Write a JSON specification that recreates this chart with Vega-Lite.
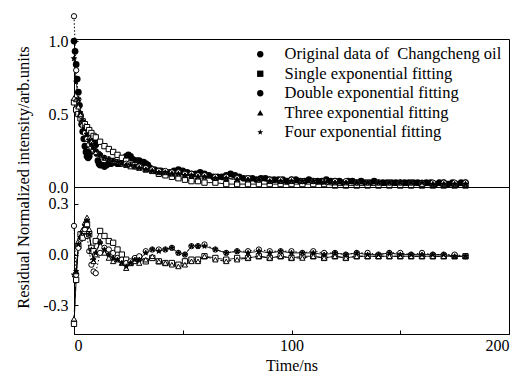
{
  "$schema": "https://vega.github.io/schema/vega-lite/v6.json",
  "padding": {"left": 14, "top": 11, "right": 2, "bottom": 0},
  "background": "white",
  "bounds": "flush",
  "spacing": 0,
  "config": {
    "view": {"stroke": "black", "strokeWidth": 1},
    "font": "Liberation Serif",
    "axis": {"grid": false, "domainColor": "black", "tickColor": "black", "labelColor": "black", "titleColor": "black", "labelFont": "Liberation Serif", "titleFont": "Liberation Serif", "labelFontSize": 16, "titleFontSize": 16, "titleFontWeight": "normal", "tickSize": -4, "domainWidth": 1, "tickWidth": 1}
  },
  "datasets": {
    "orig": [
      {"t":0,"orig":1.00},{"t":0.5,"orig":0.93},{"t":1,"orig":0.84},{"t":1.5,"orig":0.74},{"t":2,"orig":0.65},{"t":2.5,"orig":0.56},{"t":3,"orig":0.49},{"t":3.5,"orig":0.43},{"t":4,"orig":0.38},{"t":4.5,"orig":0.33},{"t":5,"orig":0.28},{"t":5.5,"orig":0.24},{"t":6,"orig":0.21},{"t":6.5,"orig":0.20},{"t":7,"orig":0.21},{"t":7.5,"orig":0.24},{"t":8,"orig":0.28},{"t":8.5,"orig":0.32},{"t":9,"orig":0.34},{"t":9.5,"orig":0.33},{"t":10,"orig":0.29},{"t":10.5,"orig":0.23},{"t":11,"orig":0.18},{"t":11.5,"orig":0.16},{"t":12,"orig":0.15},{"t":13,"orig":0.15},{"t":14,"orig":0.14},{"t":15,"orig":0.15},{"t":16,"orig":0.16},{"t":17,"orig":0.16},{"t":18,"orig":0.17},{"t":19,"orig":0.17},{"t":20,"orig":0.16},{"t":21,"orig":0.16},{"t":22,"orig":0.17},{"t":23,"orig":0.19},{"t":24,"orig":0.21},{"t":25,"orig":0.22},{"t":26,"orig":0.21},{"t":27,"orig":0.19},{"t":28,"orig":0.18},{"t":29,"orig":0.18},{"t":30,"orig":0.18},{"t":31,"orig":0.17},{"t":32,"orig":0.17},{"t":33,"orig":0.16},{"t":34,"orig":0.15},{"t":35,"orig":0.13},{"t":36,"orig":0.12},{"t":37,"orig":0.12},{"t":38,"orig":0.11},{"t":39,"orig":0.11},{"t":40,"orig":0.11},{"t":42,"orig":0.10},{"t":44,"orig":0.10},{"t":46,"orig":0.11},{"t":48,"orig":0.12},{"t":50,"orig":0.11},{"t":52,"orig":0.10},{"t":54,"orig":0.09},{"t":56,"orig":0.09},{"t":58,"orig":0.10},{"t":60,"orig":0.09},{"t":62,"orig":0.08},{"t":64,"orig":0.07},{"t":66,"orig":0.07},{"t":68,"orig":0.07},{"t":70,"orig":0.08},{"t":72,"orig":0.09},{"t":74,"orig":0.08},{"t":76,"orig":0.07},{"t":78,"orig":0.06},{"t":80,"orig":0.06},{"t":82,"orig":0.06},{"t":84,"orig":0.05},{"t":86,"orig":0.06},{"t":88,"orig":0.06},{"t":90,"orig":0.05},{"t":92,"orig":0.05},{"t":94,"orig":0.05},{"t":96,"orig":0.05},{"t":98,"orig":0.04},{"t":100,"orig":0.05},{"t":102,"orig":0.05},{"t":104,"orig":0.04},{"t":106,"orig":0.04},{"t":108,"orig":0.05},{"t":110,"orig":0.04},{"t":112,"orig":0.04},{"t":114,"orig":0.04},{"t":116,"orig":0.05},{"t":118,"orig":0.04},{"t":120,"orig":0.04},{"t":122,"orig":0.04},{"t":124,"orig":0.03},{"t":126,"orig":0.04},{"t":128,"orig":0.04},{"t":130,"orig":0.03},{"t":132,"orig":0.04},{"t":134,"orig":0.03},{"t":136,"orig":0.03},{"t":138,"orig":0.04},{"t":140,"orig":0.03},{"t":142,"orig":0.03},{"t":144,"orig":0.03},{"t":146,"orig":0.03},{"t":148,"orig":0.03},{"t":150,"orig":0.03},{"t":152,"orig":0.03},{"t":154,"orig":0.03},{"t":156,"orig":0.03},{"t":158,"orig":0.03},{"t":160,"orig":0.02},{"t":162,"orig":0.03},{"t":164,"orig":0.03},{"t":166,"orig":0.02},{"t":168,"orig":0.03},{"t":170,"orig":0.03},{"t":172,"orig":0.02},{"t":174,"orig":0.03},{"t":176,"orig":0.02},{"t":178,"orig":0.03},{"t":180,"orig":0.03}
    ],
    "fit": [
      {"t":0,"s1":0.58,"s2":1.17,"s3":0.61,"s4":0.88},
      {"t":1,"s1":0.53,"s2":0.80,"s3":0.60,"s4":0.72},
      {"t":2,"s1":0.50,"s2":0.60,"s3":0.55,"s4":0.60},
      {"t":3,"s1":0.47,"s2":0.49,"s3":0.50,"s4":0.51},
      {"t":4,"s1":0.45,"s2":0.42,"s3":0.46,"s4":0.45},
      {"t":5,"s1":0.43,"s2":0.37,"s3":0.42,"s4":0.40},
      {"t":6,"s1":0.41,"s2":0.33,"s3":0.38,"s4":0.36},
      {"t":7,"s1":0.39,"s2":0.29,"s3":0.34,"s4":0.32},
      {"t":8,"s1":0.37,"s2":0.27,"s3":0.31,"s4":0.29},
      {"t":9,"s1":0.35,"s2":0.25,"s3":0.28,"s4":0.27},
      {"t":10,"s1":0.34,"s2":0.24,"s3":0.26,"s4":0.25},
      {"t":12,"s1":0.31,"s2":0.22,"s3":0.23,"s4":0.22},
      {"t":14,"s1":0.28,"s2":0.20,"s3":0.20,"s4":0.20},
      {"t":16,"s1":0.26,"s2":0.19,"s3":0.19,"s4":0.19},
      {"t":18,"s1":0.24,"s2":0.18,"s3":0.18,"s4":0.18},
      {"t":20,"s1":0.22,"s2":0.17,"s3":0.17,"s4":0.17},
      {"t":22,"s1":0.20,"s2":0.16,"s3":0.16,"s4":0.16},
      {"t":24,"s1":0.18,"s2":0.16,"s3":0.15,"s4":0.15},
      {"t":26,"s1":0.16,"s2":0.15,"s3":0.14,"s4":0.15},
      {"t":28,"s1":0.15,"s2":0.14,"s3":0.14,"s4":0.14},
      {"t":30,"s1":0.14,"s2":0.14,"s3":0.13,"s4":0.13},
      {"t":33,"s1":0.12,"s2":0.13,"s3":0.12,"s4":0.12},
      {"t":36,"s1":0.11,"s2":0.12,"s3":0.11,"s4":0.11},
      {"t":39,"s1":0.09,"s2":0.11,"s3":0.10,"s4":0.10},
      {"t":42,"s1":0.08,"s2":0.11,"s3":0.10,"s4":0.10},
      {"t":45,"s1":0.07,"s2":0.10,"s3":0.09,"s4":0.09},
      {"t":48,"s1":0.06,"s2":0.10,"s3":0.09,"s4":0.09},
      {"t":51,"s1":0.05,"s2":0.09,"s3":0.08,"s4":0.08},
      {"t":54,"s1":0.04,"s2":0.09,"s3":0.08,"s4":0.08},
      {"t":57,"s1":0.04,"s2":0.08,"s3":0.07,"s4":0.07},
      {"t":60,"s1":0.03,"s2":0.08,"s3":0.07,"s4":0.07},
      {"t":65,"s1":0.03,"s2":0.07,"s3":0.06,"s4":0.06},
      {"t":70,"s1":0.02,"s2":0.07,"s3":0.06,"s4":0.06},
      {"t":75,"s1":0.02,"s2":0.06,"s3":0.05,"s4":0.05},
      {"t":80,"s1":0.02,"s2":0.06,"s3":0.05,"s4":0.05},
      {"t":85,"s1":0.02,"s2":0.05,"s3":0.05,"s4":0.05},
      {"t":90,"s1":0.02,"s2":0.05,"s3":0.04,"s4":0.04},
      {"t":95,"s1":0.02,"s2":0.05,"s3":0.04,"s4":0.04},
      {"t":100,"s1":0.02,"s2":0.05,"s3":0.04,"s4":0.04},
      {"t":105,"s1":0.02,"s2":0.04,"s3":0.04,"s4":0.04},
      {"t":110,"s1":0.02,"s2":0.04,"s3":0.04,"s4":0.04},
      {"t":115,"s1":0.02,"s2":0.04,"s3":0.04,"s4":0.03},
      {"t":120,"s1":0.01,"s2":0.04,"s3":0.03,"s4":0.03},
      {"t":125,"s1":0.01,"s2":0.04,"s3":0.03,"s4":0.03},
      {"t":130,"s1":0.01,"s2":0.03,"s3":0.03,"s4":0.03},
      {"t":135,"s1":0.01,"s2":0.03,"s3":0.03,"s4":0.03},
      {"t":140,"s1":0.01,"s2":0.03,"s3":0.03,"s4":0.03},
      {"t":145,"s1":0.01,"s2":0.03,"s3":0.03,"s4":0.03},
      {"t":150,"s1":0.01,"s2":0.03,"s3":0.03,"s4":0.03},
      {"t":155,"s1":0.01,"s2":0.03,"s3":0.03,"s4":0.03},
      {"t":160,"s1":0.01,"s2":0.03,"s3":0.02,"s4":0.03},
      {"t":165,"s1":0.01,"s2":0.03,"s3":0.02,"s4":0.02},
      {"t":170,"s1":0.01,"s2":0.03,"s3":0.02,"s4":0.02},
      {"t":175,"s1":0.01,"s2":0.03,"s3":0.02,"s4":0.02},
      {"t":180,"s1":0.01,"s2":0.03,"s3":0.02,"s4":0.02}
    ],
    "res": [
      {"t":0,"s1":-0.41,"s2":0.17,"s3":-0.38,"s4":-0.12},
      {"t":1,"s1":-0.15,"s2":-0.12,"s3":-0.10,"s4":-0.10},
      {"t":2,"s1":0.05,"s2":0.04,"s3":0.08,"s4":0.06},
      {"t":3,"s1":0.12,"s2":0.09,"s3":0.11,"s4":0.10},
      {"t":4,"s1":0.10,"s2":0.13,"s3":0.15,"s4":0.13},
      {"t":5,"s1":0.14,"s2":0.15,"s3":0.19,"s4":0.17},
      {"t":6,"s1":0.18,"s2":0.11,"s3":0.22,"s4":0.20},
      {"t":7,"s1":0.12,"s2":0.02,"s3":0.15,"s4":0.12},
      {"t":8,"s1":0.04,"s2":-0.06,"s3":0.02,"s4":0.03},
      {"t":9,"s1":0.02,"s2":-0.10,"s3":-0.04,"s4":-0.03},
      {"t":10,"s1":0.08,"s2":-0.11,"s3":0.00,"s4":0.01},
      {"t":12,"s1":0.14,"s2":0.01,"s3":0.08,"s4":0.07},
      {"t":14,"s1":0.11,"s2":0.04,"s3":0.01,"s4":0.03},
      {"t":16,"s1":0.08,"s2":0.03,"s3":-0.02,"s4":0.00},
      {"t":18,"s1":0.07,"s2":0.01,"s3":-0.04,"s4":-0.02},
      {"t":20,"s1":0.03,"s2":-0.02,"s3":-0.03,"s4":-0.03},
      {"t":22,"s1":0.00,"s2":-0.03,"s3":-0.05,"s4":-0.05},
      {"t":24,"s1":-0.03,"s2":-0.05,"s3":-0.08,"s4":-0.07},
      {"t":26,"s1":-0.05,"s2":-0.04,"s3":-0.05,"s4":-0.05},
      {"t":28,"s1":-0.03,"s2":-0.02,"s3":-0.04,"s4":-0.03},
      {"t":30,"s1":-0.02,"s2":-0.01,"s3":-0.05,"s4":-0.03},
      {"t":33,"s1":-0.04,"s2":0.02,"s3":-0.03,"s4":0.01},
      {"t":36,"s1":-0.02,"s2":0.03,"s3":-0.01,"s4":0.03},
      {"t":39,"s1":-0.04,"s2":0.03,"s3":-0.04,"s4":0.02},
      {"t":42,"s1":-0.05,"s2":0.03,"s3":-0.05,"s4":0.03},
      {"t":45,"s1":-0.05,"s2":0.04,"s3":-0.06,"s4":0.04},
      {"t":48,"s1":-0.06,"s2":0.01,"s3":-0.07,"s4":0.01},
      {"t":51,"s1":-0.04,"s2":0.00,"s3":-0.06,"s4":0.00},
      {"t":54,"s1":-0.03,"s2":0.05,"s3":-0.04,"s4":0.05},
      {"t":57,"s1":-0.03,"s2":0.05,"s3":-0.04,"s4":0.05},
      {"t":60,"s1":-0.01,"s2":0.06,"s3":-0.01,"s4":0.05},
      {"t":65,"s1":-0.02,"s2":0.03,"s3":-0.03,"s4":0.03},
      {"t":70,"s1":-0.03,"s2":0.01,"s3":-0.04,"s4":0.01},
      {"t":75,"s1":-0.02,"s2":0.02,"s3":-0.03,"s4":0.02},
      {"t":80,"s1":-0.02,"s2":0.02,"s3":-0.02,"s4":0.01},
      {"t":85,"s1":-0.01,"s2":0.03,"s3":-0.01,"s4":0.02},
      {"t":90,"s1":-0.02,"s2":0.02,"s3":-0.02,"s4":0.01},
      {"t":95,"s1":-0.01,"s2":0.02,"s3":-0.01,"s4":0.02},
      {"t":100,"s1":-0.02,"s2":0.02,"s3":-0.02,"s4":0.01},
      {"t":105,"s1":-0.01,"s2":0.01,"s3":-0.02,"s4":0.01},
      {"t":110,"s1":-0.01,"s2":0.02,"s3":-0.01,"s4":0.01},
      {"t":115,"s1":-0.02,"s2":0.01,"s3":-0.02,"s4":0.00},
      {"t":120,"s1":-0.01,"s2":0.01,"s3":-0.01,"s4":0.01},
      {"t":125,"s1":-0.02,"s2":0.00,"s3":-0.02,"s4":0.00},
      {"t":130,"s1":-0.01,"s2":0.01,"s3":-0.01,"s4":0.01},
      {"t":135,"s1":-0.01,"s2":0.01,"s3":-0.01,"s4":0.00},
      {"t":140,"s1":-0.01,"s2":0.00,"s3":-0.01,"s4":0.00},
      {"t":145,"s1":-0.01,"s2":0.01,"s3":-0.01,"s4":0.01},
      {"t":150,"s1":-0.01,"s2":0.01,"s3":-0.01,"s4":0.00},
      {"t":155,"s1":-0.01,"s2":0.00,"s3":-0.01,"s4":0.00},
      {"t":160,"s1":-0.01,"s2":0.01,"s3":-0.01,"s4":0.00},
      {"t":165,"s1":-0.01,"s2":0.00,"s3":-0.01,"s4":0.00},
      {"t":170,"s1":-0.01,"s2":0.00,"s3":-0.01,"s4":0.00},
      {"t":175,"s1":-0.01,"s2":0.00,"s3":-0.01,"s4":-0.01},
      {"t":180,"s1":-0.01,"s2":-0.01,"s3":-0.01,"s4":-0.01}
    ]
  },
  "resolve": {"scale": {"shape": "independent", "strokeDash": "independent"}, "legend": {"shape": "independent", "strokeDash": "independent"}},
  "vconcat": [
    {
      "width": 435,
      "height": 148,
      "layer": [
        {
          "data": {"name": "orig"},
          "transform": [{"fold": ["orig"], "as": ["series", "v"]}],
          "mark": {"type": "point", "filled": true, "size": 45, "color": "black", "opacity": 1},
          "encoding": {
            "x": {"field": "t", "type": "quantitative", "scale": {"domain": [0, 200], "nice": false}, "axis": null},
            "y": {"field": "v", "type": "quantitative", "scale": {"domain": [0, 1.014], "nice": false, "zero": false},
              "axis": {"values": [0, 0.25, 0.5, 0.75, 1], "labelPadding": 10, "labelExpr": "(datum.value == 0 || datum.value == 0.5 || datum.value == 1) ? format(datum.value, '.1f') : ''",
                "title": "Residual Normalized intensity/arb.units", "titleX": -51, "titleY": 138, "titleAngle": -90, "titleAlign": "center", "titleBaseline": "middle", "titleFontSize": 16.5}},
            "shape": {"field": "series", "type": "nominal",
              "scale": {"domain": ["orig", "s1", "s2", "s3", "s4"], "range": ["circle", "square", "circle", "triangle-up", "M0,-1L0.235,-0.324L0.951,-0.309L0.38,0.124L0.588,0.809L0,0.4L-0.588,0.809L-0.38,0.124L-0.951,-0.309L-0.235,-0.324Z"]},
              "legend": {
                "title": null, "orient": "top-right", "offset": 7, "padding": 0,
                "symbolSize": 40, "symbolStrokeWidth": 1, "symbolStrokeColor": "black",
                "labelFont": "Liberation Serif", "labelFontSize": 16.5, "labelColor": "black", "labelOffset": 16, "rowPadding": 2.5, "labelLimit": 400,
                "labelExpr": "datum.value === 'orig' ? 'Original data of\u00a0 Changcheng oil' : datum.value === 's1' ? 'Single exponential fitting' : datum.value === 's2' ? 'Double exponential fitting' : datum.value === 's3' ? 'Three exponential fitting' : 'Four exponential fitting'",
                "encode": {"symbols": {
                  "fill": {"value": {"expr": "(datum.value === 'orig' || datum.value === 's4') ? 'black' : 'white'"}},
                  "stroke": {"value": "black"},
                  "strokeWidth": {"value": 1}
                }}
              }
            }
          }
        },
        {
          "data": {"name": "fit"},
          "transform": [{"fold": ["s1", "s2", "s3", "s4"], "as": ["series", "v"]}],
          "mark": {"type": "line", "color": "black", "strokeWidth": 1},
          "encoding": {
            "x": {"field": "t", "type": "quantitative"},
            "y": {"field": "v", "type": "quantitative"},
            "strokeDash": {"field": "series", "type": "nominal", "scale": {"domain": ["s1", "s2", "s3", "s4"], "range": [[1, 0], [1.5, 2], [4, 3], [1, 0]]}, "legend": null}
          }
        },
        {
          "data": {"name": "fit"},
          "transform": [{"fold": ["s1", "s2", "s3", "s4"], "as": ["series", "v"]}],
          "mark": {"type": "point", "size": 28, "strokeWidth": 1, "opacity": 1, "stroke": "black"},
          "encoding": {
            "x": {"field": "t", "type": "quantitative"},
            "y": {"field": "v", "type": "quantitative"},
            "shape": {"field": "series", "type": "nominal", "legend": null},
            "fill": {"condition": {"test": "datum.series === 's4'", "value": "black"}, "value": "white"}
          }
        }
      ]
    },
    {
      "width": 435,
      "height": 147,
      "layer": [
        {
          "data": {"name": "res"},
          "transform": [{"fold": ["s1", "s2", "s3", "s4"], "as": ["series", "r"]}],
          "mark": {"type": "line", "color": "black", "strokeWidth": 1},
          "encoding": {
            "x": {"field": "t", "type": "quantitative", "scale": {"domain": [0, 200], "nice": false},
              "axis": {"values": [0, 50, 100, 150, 200], "labelPadding": 7, "labelExpr": "datum.value % 100 === 0 ? datum.label : ''", "title": "Time/ns", "titlePadding": 4}},
            "y": {"field": "r", "type": "quantitative", "scale": {"domain": [-0.47, 0.40], "nice": false, "zero": false},
              "axis": {"values": [-0.3, 0, 0.3], "labelPadding": 10, "labelExpr": "replace(format(datum.value, '.1f'), '\u2212', '-')", "title": null}},
            "strokeDash": {"field": "series", "type": "nominal", "scale": {"domain": ["s1", "s2", "s3", "s4"], "range": [[1, 0], [1.5, 2], [4, 3], [1, 0]]}, "legend": null}
          }
        },
        {
          "data": {"name": "res"},
          "transform": [{"fold": ["s1", "s2", "s3", "s4"], "as": ["series", "r"]}],
          "mark": {"type": "point", "size": 28, "strokeWidth": 1, "opacity": 1, "stroke": "black"},
          "encoding": {
            "x": {"field": "t", "type": "quantitative"},
            "y": {"field": "r", "type": "quantitative"},
            "shape": {"field": "series", "type": "nominal", "scale": {"domain": ["s1", "s2", "s3", "s4"], "range": ["square", "circle", "triangle-up", "M0,-1L0.235,-0.324L0.951,-0.309L0.38,0.124L0.588,0.809L0,0.4L-0.588,0.809L-0.38,0.124L-0.951,-0.309L-0.235,-0.324Z"]}, "legend": null},
            "fill": {"condition": {"test": "datum.series === 's4'", "value": "black"}, "value": "white"}
          }
        }
      ]
    }
  ]
}
